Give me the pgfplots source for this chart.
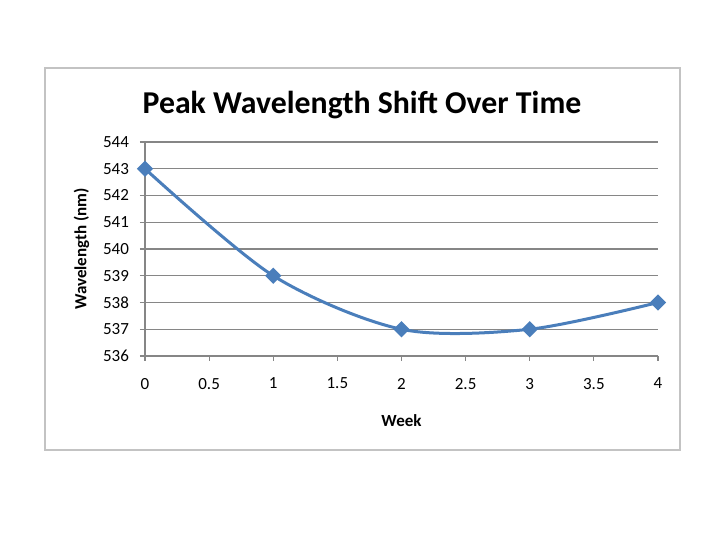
\documentclass[border=0pt]{standalone}
\usepackage{pgfplots}
\pgfplotsset{compat=1.18}
\usepackage{fontspec}
\setmainfont{Carlito}
\definecolor{serblue}{RGB}{74,126,187}
\definecolor{gridgray}{RGB}{134,134,134}
\definecolor{framegray}{RGB}{195,195,195}

\begin{document}
\begin{tikzpicture}[x=0.5pt,y=0.5pt]
\useasboundingbox (0,0) rectangle (720,540);
\fill[white] (0,0) rectangle (720,540);
\draw[framegray, line width=1.2pt] (45,90) rectangle (680,472);
\node[font=\fontsize{15.9}{19}\selectfont\bfseries] at (362,435) {Peak Wavelength Shift Over Time};
\begin{axis}[
  at={(72.5pt,92pt)}, anchor=south west,
  scale only axis, width=256.5pt, height=107pt,
  xmin=0, xmax=4, ymin=536, ymax=544,
  xtick distance=0.5, ytick distance=1,
  axis lines=left, axis line style={-, gridgray, line width=0.6pt},
  ymajorgrids, grid style={gridgray, line width=0.6pt},
  tick align=outside, major tick length=2.5pt,
  tick style={gridgray, line width=0.6pt},
  ticklabel style={font=\fontsize{8.5}{10}\selectfont},
  /pgf/number format/assume math mode=true,
  xticklabel style={/pgf/number format/fixed, yshift=-5pt},
  yticklabel style={/pgf/number format/1000 sep={}, xshift=-2pt},
  xlabel={\textbf{Week}}, ylabel={\textbf{Wavelength (nm)}},
  label style={font=\fontsize{8.5}{10}\selectfont},
  xlabel style={yshift=-6pt},
  ylabel style={yshift=0pt},
]
\addplot[serblue, line width=1.5pt, smooth, tension=0.5,
  mark=square*, mark size=2.1pt, mark options={rotate=45, solid}]
  coordinates {(0,543) (1,539) (2,537) (3,537) (4,538)};
\end{axis}
\end{tikzpicture}
\end{document}
